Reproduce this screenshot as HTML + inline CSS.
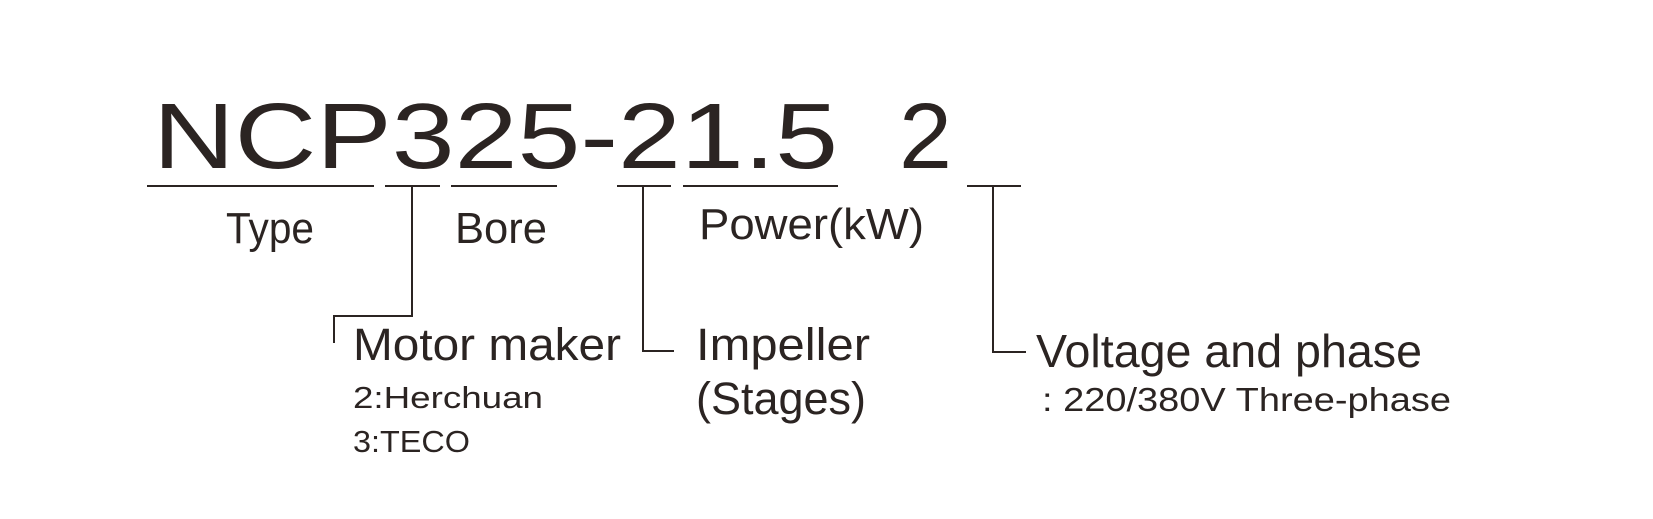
<!DOCTYPE html>
<html><head><meta charset="utf-8"><style>html,body{margin:0;padding:0;background:#fff}svg{display:block}</style></head>
<body>
<svg width="1653" height="519" viewBox="0 0 1653 519" xmlns="http://www.w3.org/2000/svg">
<g fill="#2b2422" font-family="Liberation Sans, sans-serif">
<text x="153" y="168" font-size="93" textLength="685" lengthAdjust="spacingAndGlyphs">NCP325-21.5</text>
<text x="899" y="168" font-size="93" textLength="53" lengthAdjust="spacingAndGlyphs">2</text>
<text x="226" y="243" font-size="44" textLength="88" lengthAdjust="spacingAndGlyphs">Type</text>
<text x="455" y="243" font-size="44" textLength="92" lengthAdjust="spacingAndGlyphs">Bore</text>
<text x="699" y="239" font-size="44" textLength="225" lengthAdjust="spacingAndGlyphs">Power(kW)</text>
<text x="353" y="360" font-size="45" textLength="268" lengthAdjust="spacingAndGlyphs">Motor maker</text>
<text x="353" y="408" font-size="31" textLength="190" lengthAdjust="spacingAndGlyphs">2:Herchuan</text>
<text x="353" y="452" font-size="31" textLength="117" lengthAdjust="spacingAndGlyphs">3:TECO</text>
<text x="696" y="360" font-size="45" textLength="174" lengthAdjust="spacingAndGlyphs">Impeller</text>
<text x="696" y="414" font-size="45" textLength="170" lengthAdjust="spacingAndGlyphs">(Stages)</text>
<text x="1036" y="367" font-size="46" textLength="386" lengthAdjust="spacingAndGlyphs">Voltage and phase</text>
<text x="1042" y="411" font-size="33" textLength="409" lengthAdjust="spacingAndGlyphs">: 220/380V  Three-phase</text>
</g>
<g stroke="#2b2422" stroke-width="2" fill="none">
<line x1="147" y1="186" x2="374" y2="186"/>
<line x1="385" y1="186" x2="440" y2="186"/>
<line x1="451" y1="186" x2="557" y2="186"/>
<line x1="617" y1="186" x2="671" y2="186"/>
<line x1="683" y1="186" x2="838" y2="186"/>
<line x1="967" y1="186" x2="1021" y2="186"/>
<polyline points="412,186 412,316 334,316 334,343"/>
<polyline points="643,186 643,351 674,351"/>
<polyline points="993,186 993,352 1026,352"/>
</g>
</svg>
</body></html>
